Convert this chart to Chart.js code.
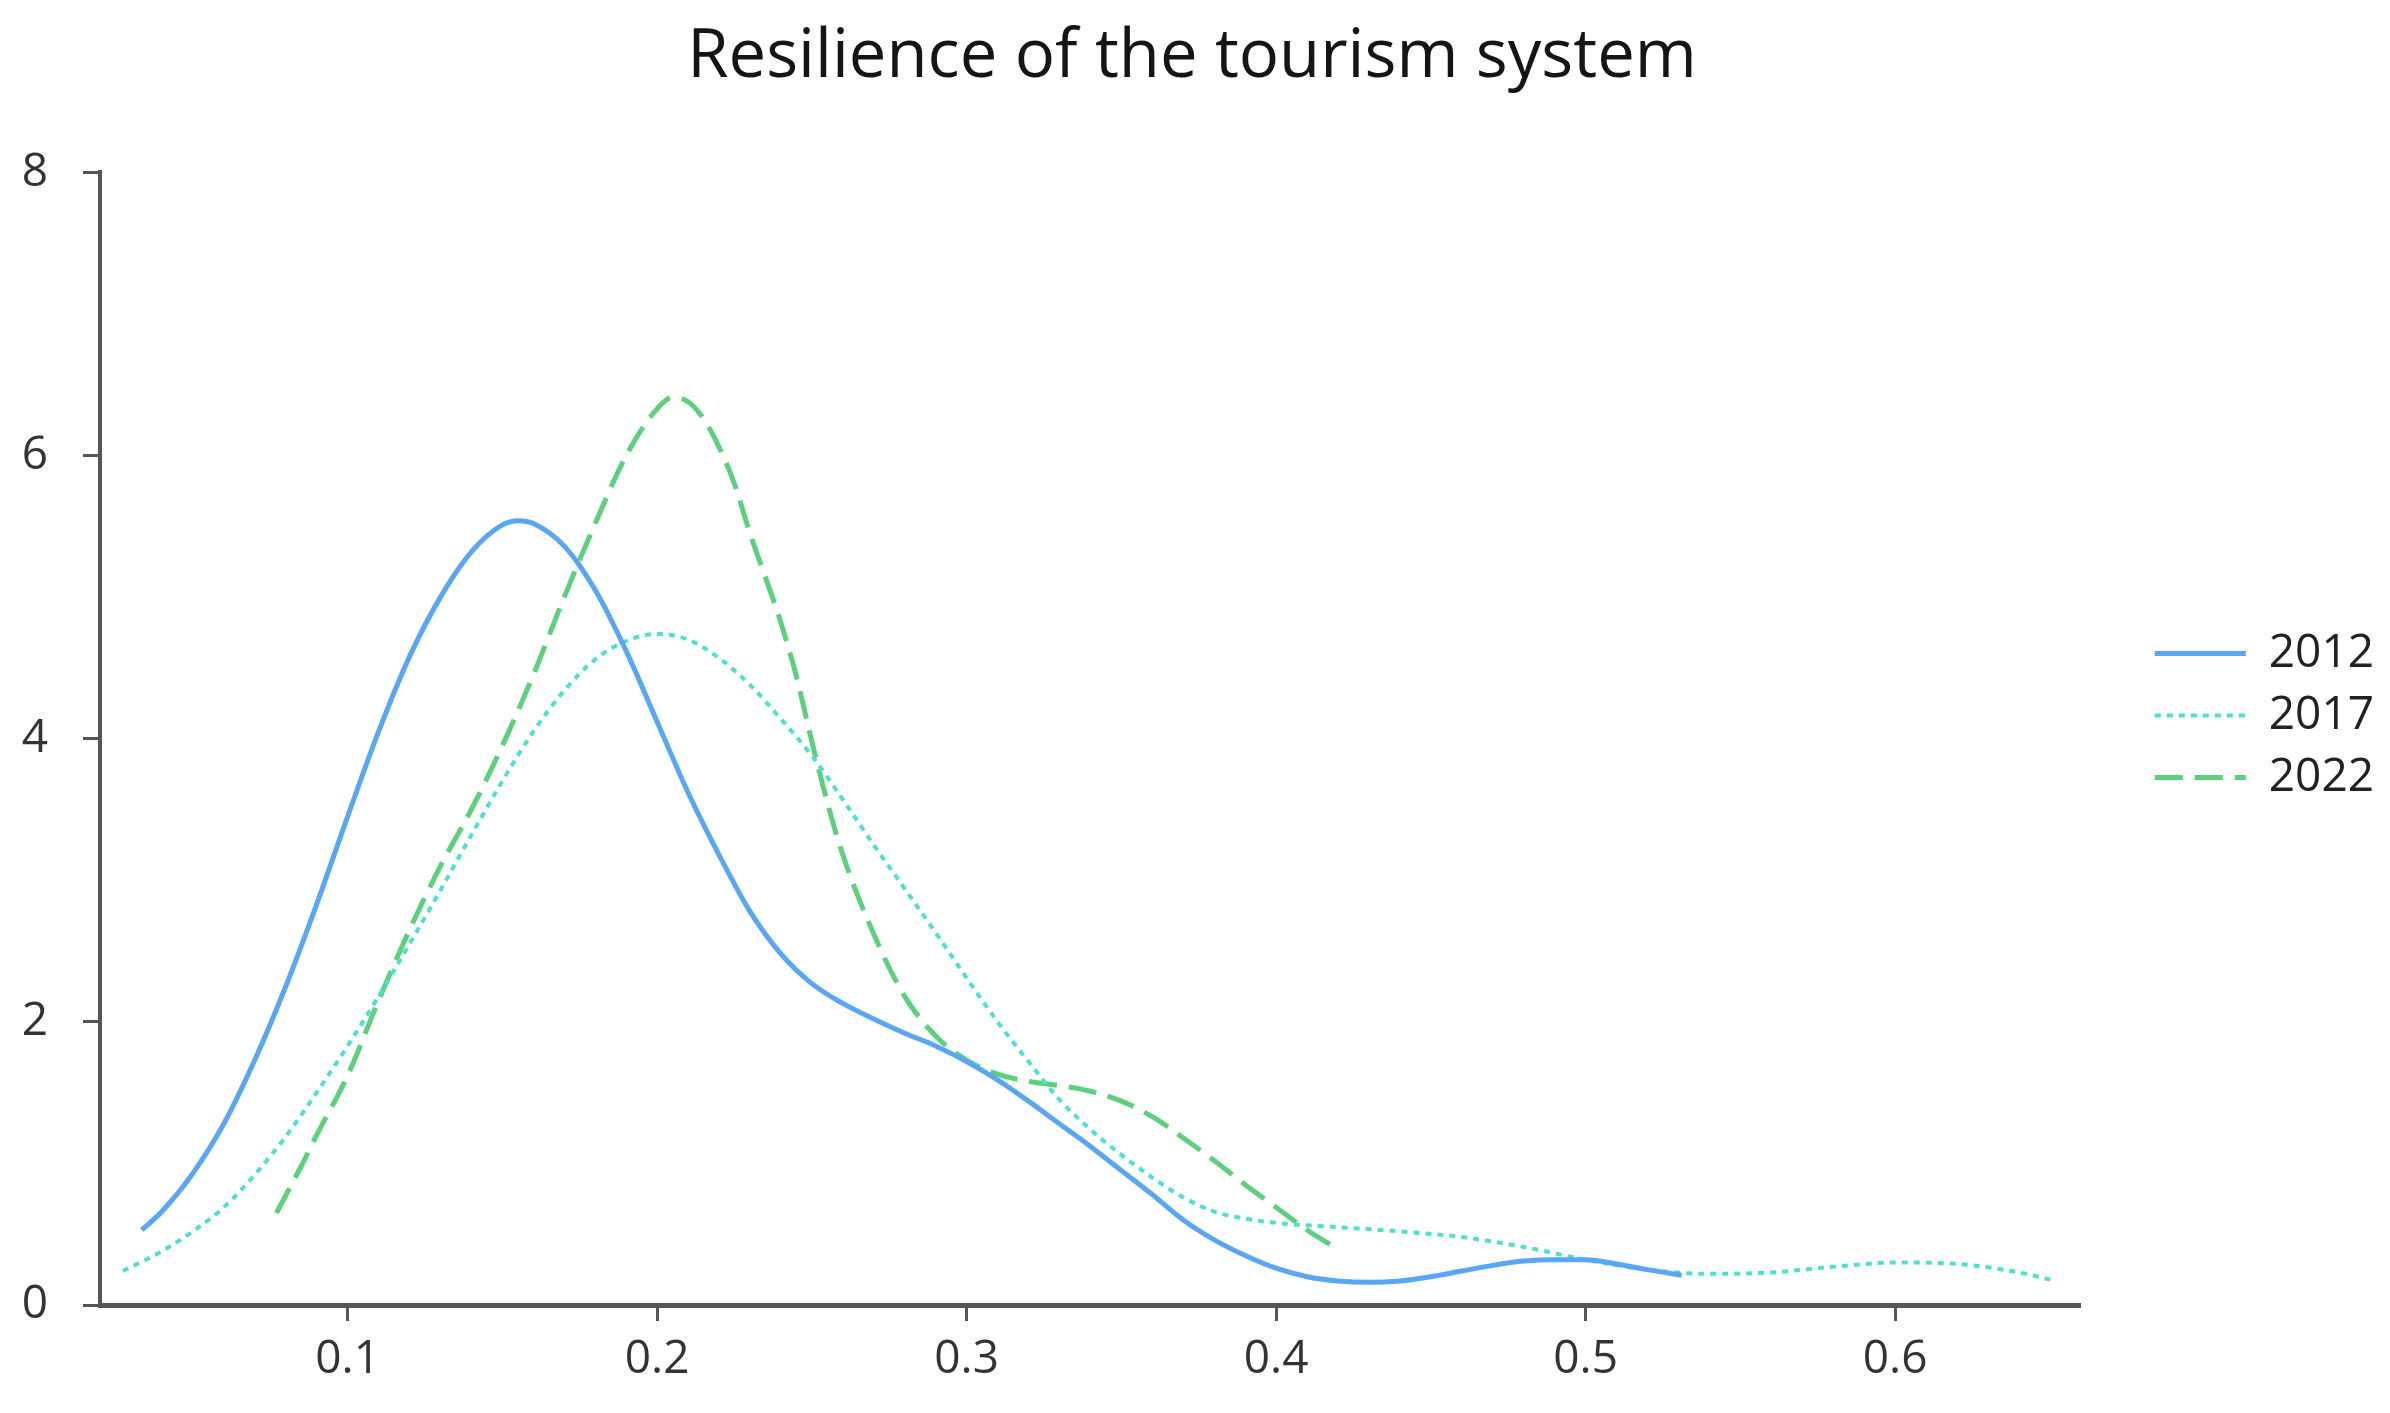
<!DOCTYPE html>
<html>
<head>
<meta charset="utf-8">
<title>Resilience of the tourism system</title>
<script src="https://cdn.jsdelivr.net/npm/chart.js@4.4.0/dist/chart.umd.min.js"></script>
<style>
  html, body { margin: 0; padding: 0; background: #fff; }
  canvas { display: block; }
</style>
</head>
<body>
<canvas id="chart" width="2390" height="1413" style="width:2390px;height:1413px"></canvas>
<script>
// kernel density curves
const x2012 = [0.0335, 0.04, 0.05, 0.06, 0.07, 0.08, 0.09, 0.10, 0.11, 0.12, 0.13, 0.14, 0.15, 0.155, 0.16, 0.17, 0.18, 0.19, 0.20, 0.21, 0.22, 0.23, 0.24, 0.25, 0.26, 0.27, 0.28, 0.29, 0.30, 0.31, 0.32, 0.33, 0.34, 0.35, 0.36, 0.37, 0.38, 0.39, 0.40, 0.41, 0.42, 0.43, 0.44, 0.45, 0.46, 0.47, 0.48, 0.49, 0.50, 0.51, 0.52, 0.531];
const y2012 = [0.53, 0.66, 0.93, 1.28, 1.73, 2.25, 2.83, 3.45, 4.05, 4.58, 5.00, 5.32, 5.51, 5.54, 5.52, 5.36, 5.05, 4.62, 4.12, 3.62, 3.18, 2.78, 2.48, 2.27, 2.13, 2.02, 1.92, 1.83, 1.72, 1.59, 1.44, 1.28, 1.12, 0.95, 0.78, 0.60, 0.46, 0.35, 0.26, 0.20, 0.17, 0.16, 0.17, 0.20, 0.24, 0.28, 0.31, 0.32, 0.32, 0.29, 0.25, 0.21];

const x2017 = [0.0274, 0.04, 0.05, 0.06, 0.07, 0.08, 0.09, 0.10, 0.11, 0.12, 0.13, 0.14, 0.15, 0.16, 0.17, 0.18, 0.19, 0.20, 0.21, 0.22, 0.23, 0.24, 0.25, 0.26, 0.27, 0.28, 0.29, 0.30, 0.31, 0.32, 0.33, 0.34, 0.35, 0.36, 0.37, 0.38, 0.39, 0.40, 0.42, 0.44, 0.46, 0.48, 0.50, 0.52, 0.54, 0.56, 0.58, 0.60, 0.62, 0.64, 0.652];
const y2017 = [0.24, 0.38, 0.52, 0.69, 0.92, 1.19, 1.50, 1.83, 2.18, 2.55, 2.93, 3.32, 3.70, 4.05, 4.34, 4.56, 4.69, 4.74, 4.70, 4.57, 4.38, 4.14, 3.88, 3.57, 3.25, 2.94, 2.63, 2.31, 2.00, 1.72, 1.45, 1.24, 1.06, 0.90, 0.76, 0.66, 0.61, 0.58, 0.55, 0.52, 0.48, 0.41, 0.32, 0.25, 0.22, 0.23, 0.27, 0.30, 0.29, 0.23, 0.17];

const x2022 = [0.077, 0.085, 0.09, 0.10, 0.11, 0.12, 0.13, 0.14, 0.15, 0.16, 0.17, 0.18, 0.19, 0.20, 0.205, 0.21, 0.215, 0.22, 0.225, 0.23, 0.235, 0.24, 0.245, 0.25, 0.255, 0.26, 0.27, 0.28, 0.29, 0.30, 0.31, 0.32, 0.33, 0.34, 0.35, 0.36, 0.37, 0.38, 0.39, 0.40, 0.41, 0.4203];
const y2022 = [0.65, 0.98, 1.20, 1.62, 2.15, 2.65, 3.10, 3.50, 3.95, 4.45, 5.00, 5.52, 6.00, 6.33, 6.41, 6.38, 6.26, 6.06, 5.80, 5.45, 5.14, 4.82, 4.44, 3.98, 3.55, 3.18, 2.62, 2.18, 1.90, 1.73, 1.63, 1.58, 1.55, 1.51, 1.44, 1.33, 1.18, 1.02, 0.85, 0.69, 0.53, 0.39];

const xTicks = [0.1, 0.2, 0.3, 0.4, 0.5, 0.6];
const yTicks = [0, 2, 4, 6, 8];

const FONT = "'Open Sans', 'Noto Sans', sans-serif";
const AXIS = '#555555';

function pts(xs, ys) {
    return xs.map((x, i) => ({ x: x, y: ys[i] }));
}

function line(label, xs, ys, color, width, dash) {
    return {
        label: label,
        data: pts(xs, ys),
        borderColor: color,
        backgroundColor: color,
        borderWidth: width,
        borderDash: dash,
        pointRadius: 0,
        fill: false,
        cubicInterpolationMode: 'monotone'
    };
}

// legend swatches take the dash and width of the line, not of its points
function legendLabels(chart) {
    const base = Chart.defaults.plugins.legend.labels.generateLabels(chart);
    return base.map(l => {
        const ds = chart.data.datasets[l.datasetIndex];
        l.pointStyle = 'line';
        l.strokeStyle = ds.borderColor;
        l.fillStyle = ds.borderColor;
        l.lineWidth = ds.borderWidth;
        l.lineDash = ds.borderDash;
        return l;
    });
}

const ctx = document.getElementById('chart').getContext('2d');
new Chart(ctx, {
    type: 'line',
    data: {
        datasets: [
            line('2012', x2012, y2012, '#58a6f4', 5, []),
            line('2017', x2017, y2017, '#4ddfcf', 4, [6, 6]),
            line('2022', x2022, y2022, '#5cd07c', 5, [28, 12])
        ]
    },
    options: {
        responsive: false,
        animation: false,
        devicePixelRatio: 1,
        layout: { padding: { right: 6 } },
        plugins: {
            title: {
                display: true,
                text: 'Resilience of the tourism system',
                color: '#151515',
                font: { family: FONT, size: 67, weight: 'normal' },
                padding: { top: 18, bottom: 74 }
            },
            legend: {
                position: 'right',
                align: 'center',
                maxWidth: 260,
                title: { display: true, text: '', padding: 0, font: { size: 15 } },
                labels: {
                    color: '#222',
                    font: { family: FONT, size: 46 },
                    usePointStyle: true,
                    pointStyleWidth: 91,
                    padding: 16,
                    generateLabels: legendLabels
                }
            },
            tooltip: { enabled: false }
        },
        scales: {
            x: {
                type: 'linear',
                min: 0.02,
                max: 0.66,
                afterBuildTicks: s => { s.ticks = xTicks.map(v => ({ value: v })); },
                afterFit: s => { s.height = 108; },
                ticks: {
                    color: '#333',
                    font: { family: FONT, size: 46 },
                    padding: 11,
                    callback: v => v.toFixed(1)
                },
                grid: { drawOnChartArea: false, tickLength: 16, tickWidth: 3, tickColor: AXIS },
                border: { color: AXIS, width: 5 }
            },
            y: {
                type: 'linear',
                min: 0,
                max: 8,
                afterBuildTicks: s => { s.ticks = yTicks.map(v => ({ value: v })); },
                afterFit: s => { s.width = 100; },
                ticks: {
                    color: '#333',
                    font: { family: FONT, size: 46 },
                    padding: 35
                },
                grid: { drawOnChartArea: false, tickLength: 17, tickWidth: 3, tickColor: AXIS },
                border: { color: AXIS, width: 4 }
            },
            // empty axis only to leave room between plot and legend
            gap: {
                type: 'linear',
                position: 'right',
                display: true,
                afterFit: s => { s.width = 58; },
                ticks: { display: false },
                grid: { display: false },
                border: { display: false }
            }
        }
    }
});
</script>
</body>
</html>
